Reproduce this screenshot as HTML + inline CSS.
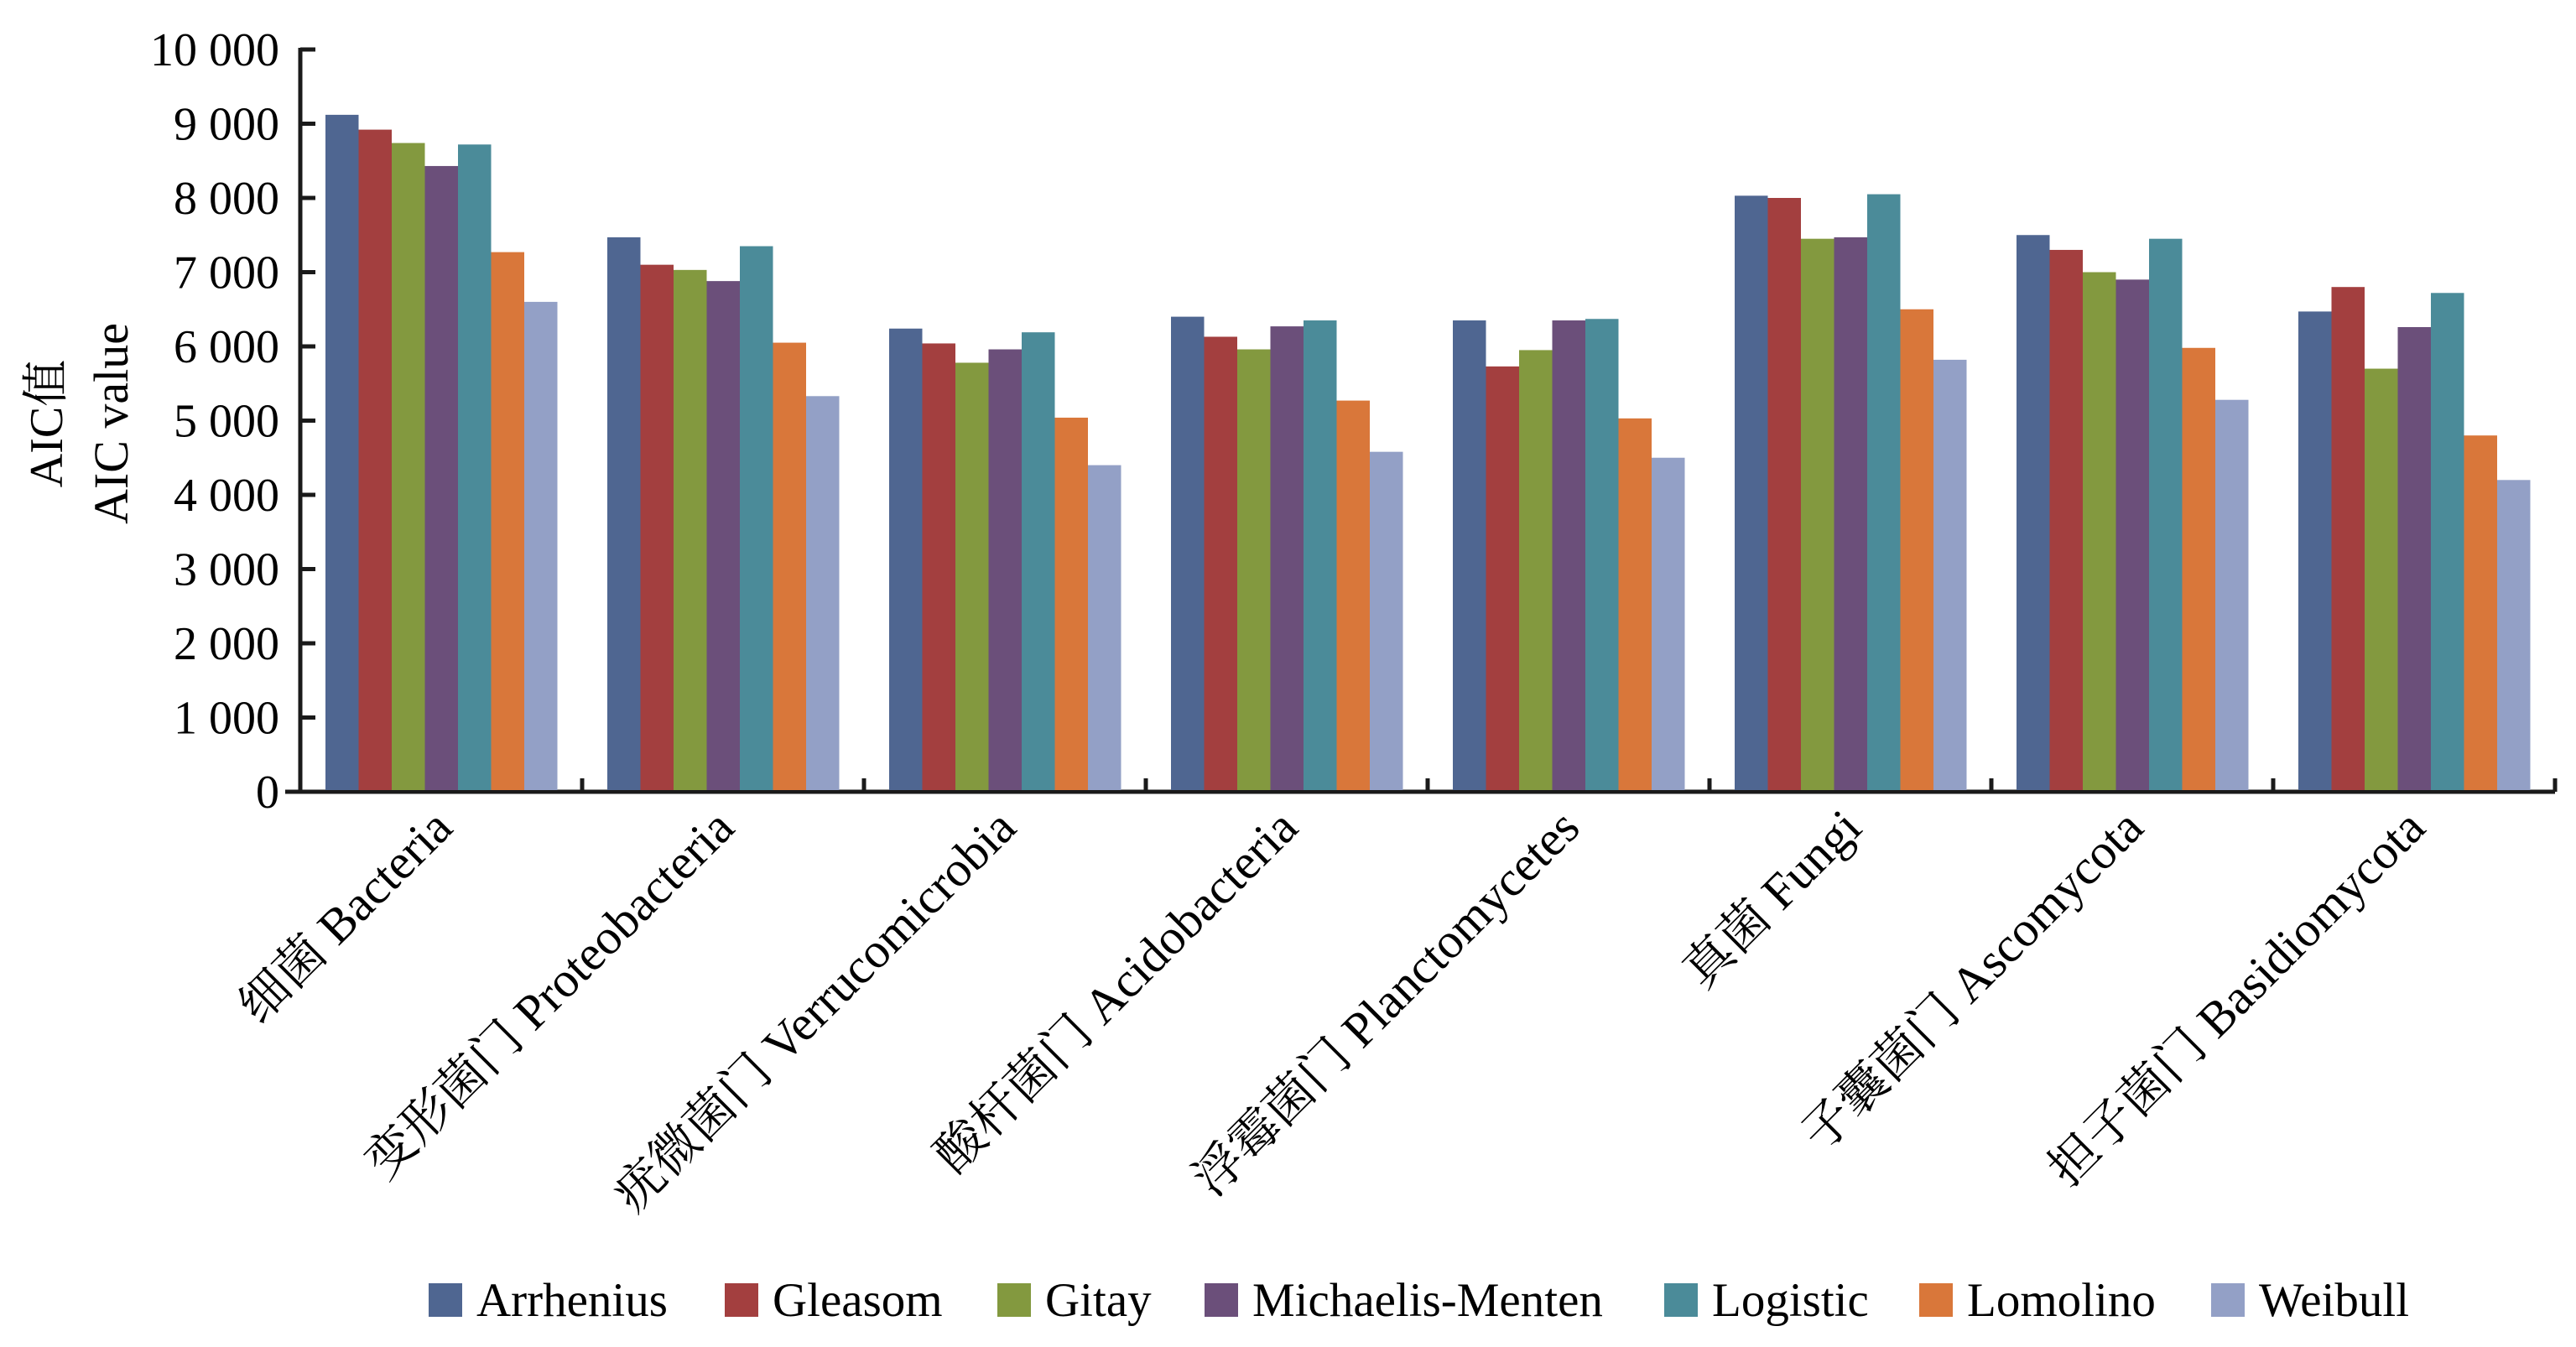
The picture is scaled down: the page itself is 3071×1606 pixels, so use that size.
<!DOCTYPE html>
<html><head><meta charset="utf-8"><style>html,body{margin:0;padding:0;background:#fff}svg{display:block}</style></head>
<body>
<svg id="chart" xmlns="http://www.w3.org/2000/svg" width="3071" height="1606" viewBox="0 0 3071 1606" font-family="'Liberation Serif','Noto Serif CJK SC',serif">
<g id="axes"></g>
<g id="bars"></g>
<g id="labels"></g>
<g id="legend"></g>
<text x="0" y="0" transform="translate(74,505) rotate(-90)" text-anchor="middle" font-size="56">AIC值</text>
<text x="0" y="0" transform="translate(152,505) rotate(-90)" text-anchor="middle" font-size="58">AIC value</text>
</svg>
<script>
const categories = ["细菌 Bacteria","变形菌门 Proteobacteria","疣微菌门 Verrucomicrobia","酸杆菌门 Acidobacteria","浮霉菌门 Planctomycetes","真菌 Fungi","子囊菌门 Ascomycota","担子菌门 Basidiomycota"];
const seriesNames = ["Arrhenius","Gleasom","Gitay","Michaelis-Menten","Logistic","Lomolino","Weibull"];
const arrhenius = [9120,7470,6240,6400,6350,8030,7500,6470];
const gleasom = [8920,7100,6040,6130,5730,8000,7300,6800];
const gitay = [8740,7030,5780,5960,5950,7450,7000,5700];
const michaelisMenten = [8430,6880,5960,6270,6350,7470,6900,6260];
const logistic = [8720,7350,6190,6350,6370,8050,7450,6720];
const lomolino = [7270,6050,5040,5270,5030,6500,5980,4800];
const weibull = [6600,5330,4400,4580,4500,5820,5280,4200];
const yTicks = [0,1000,2000,3000,4000,5000,6000,7000,8000,9000,10000];
const yTickLabels = ["0","1 000","2 000","3 000","4 000","5 000","6 000","7 000","8 000","9 000","10 000"];
const series = [arrhenius,gleasom,gitay,michaelisMenten,logistic,lomolino,weibull];
const colors = ["#4F6691","#A33F3F","#83993F","#6B4F7A","#4B8B99","#D9773A","#93A0C6"];
const NS="http://www.w3.org/2000/svg";
const x0=358,x1=3046,y0=944,yTop=59;
const groupW=(x1-x0)/categories.length, barW=39.5, pad=30;
const yS=v=>y0-(v/10000)*(y0-yTop);
function mk(t,a,p){const e=document.createElementNS(NS,t);for(const k in a)e.setAttribute(k,a[k]);p.appendChild(e);return e;}
const axes=document.getElementById('axes');
yTicks.forEach((v,i)=>{
  const t=mk('line',{x1:x0,x2:x0+18,y1:yS(v),y2:yS(v),stroke:'#1a1a1a','stroke-width':5},axes);
  
  
  const l=mk('text',{x:333,y:yS(v)+19,'text-anchor':'end','font-size':56},axes);
  l.textContent=yTickLabels[i];
  
  
});
for(let i=1;i<=categories.length;i++){
  const x=x0+i*groupW;
  const t=mk('line',{x1:x,x2:x,y1:y0,y2:y0-16,stroke:'#1a1a1a','stroke-width':5},axes);
  
  
}
const ya=mk('line',{x1:x0,x2:x0,y1:yTop-2,y2:y0+2,stroke:'#1a1a1a','stroke-width':5},axes);


const xa=mk('line',{x1:340,x2:x1,y1:y0,y2:y0,stroke:'#1a1a1a','stroke-width':5},axes);


const bars=document.getElementById('bars');
categories.forEach((c,ci)=>{
  series.forEach((s,si)=>{
    const x=x0+ci*groupW+pad+si*barW;
    const r=mk('rect',{x:x,y:yS(s[ci]),width:barW,height:y0-2-yS(s[ci]),fill:colors[si]},bars);
    
    
  });
});
const labels=document.getElementById('labels');
categories.forEach((c,ci)=>{
  const cx=x0+(ci+0.5)*groupW+16;
  const t=mk('text',{x:0,y:0,'text-anchor':'end','font-size':59,transform:`translate(${cx},${y0+46}) rotate(-45)`},labels);
  t.textContent=c;
  
  
});
const legend=document.getElementById('legend');
const lx=[511,864,1189,1436,1984,2288,2636];
seriesNames.forEach((n,i)=>{
  const g=mk('g',{},legend);
  
  
  mk('rect',{x:lx[i],y:1530,width:40,height:40,fill:colors[i]},g);
  const t=mk('text',{x:lx[i]+57,y:1569,'font-size':57},g);
  t.textContent=n;
});
</script>
</body></html>
